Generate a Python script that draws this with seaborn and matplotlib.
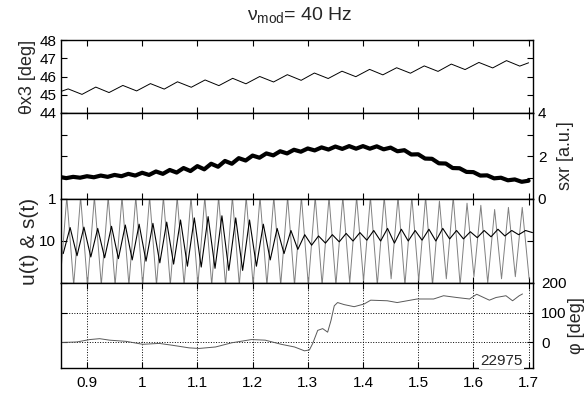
import numpy as np
import pandas as pd
import matplotlib
matplotlib.use('Agg')
import matplotlib.pyplot as plt
import seaborn as sns

sns.set_style('ticks', {'xtick.direction': 'in', 'ytick.direction': 'in'})
plt.rcParams['font.family'] = ['Liberation Sans', 'DejaVu Sans']
plt.rcParams['mathtext.fontset'] = 'custom'
plt.rcParams['mathtext.rm'] = 'Liberation Sans'
plt.rcParams['mathtext.it'] = 'Liberation Sans'

# theta_x3 (deg): peaks/troughs
theta_t = [0.850, 0.866, 0.891, 0.916, 0.940, 0.965, 0.990, 1.015, 1.040, 1.064,
           1.089, 1.114, 1.139, 1.164, 1.188, 1.213, 1.238, 1.263, 1.288, 1.312,
           1.337, 1.362, 1.387, 1.412, 1.436, 1.461, 1.486, 1.511, 1.536, 1.560,
           1.585, 1.610, 1.635, 1.660, 1.684, 1.700]
theta = [45.15, 45.32, 45.02, 45.42, 45.12, 45.51, 45.21, 45.61, 45.31, 45.71,
         45.41, 45.81, 45.50, 45.90, 45.60, 46.00, 45.70, 46.10, 45.79, 46.19,
         45.89, 46.29, 45.99, 46.39, 46.09, 46.48, 46.18, 46.58, 46.28, 46.68,
         46.38, 46.77, 46.47, 46.87, 46.57, 46.75]

# sxr (a.u.), sampled every half period of the 40 Hz modulation
sxr_t = np.linspace(0.85, 1.70, 69)
sxr = [1.03, 0.97, 1.03, 0.99, 1.06, 1.01, 1.09, 1.03, 1.12, 1.06,
       1.17, 1.09, 1.22, 1.12, 1.28, 1.17, 1.35, 1.23, 1.44, 1.30,
       1.53, 1.38, 1.64, 1.50, 1.77, 1.64, 1.90, 1.79, 2.02, 1.92,
       2.12, 2.03, 2.22, 2.12, 2.29, 2.20, 2.35, 2.26, 2.40, 2.30,
       2.44, 2.33, 2.46, 2.34, 2.46, 2.34, 2.45, 2.31, 2.39, 2.22,
       2.27, 2.07, 2.08, 1.88, 1.87, 1.66, 1.65, 1.44, 1.43, 1.26,
       1.25, 1.09, 1.10, 0.96, 0.99, 0.87, 0.91, 0.80, 0.85]

# u(t): normalised modulation, s(t): normalised response
u_t = np.linspace(0.851, 1.701, 69)
u = [-1.05, 1.05, -1.05, 1.05, -1.05, 1.05, -1.05, 1.05, -1.05, 1.05,
     -1.05, 1.05, -1.05, 1.05, -1.05, 1.05, -1.05, 1.05, -1.05, 1.05,
     -1.05, 1.05, -1.05, 1.05, -1.05, 1.05, -1.05, 1.05, -1.05, 1.05,
     -1.05, 1.05, -1.05, 1.05, -1.05, 1.05, -1.05, 1.05, -1.05, 1.05,
     -1.05, 1.05, -1.0, 1.05, -0.95, 1.05, -1.05, 1.05, -0.9, 1.05,
     -1.05, 1.05, -0.95, 1.05, -1.05, 0.95, -0.9, 1.05, -1.05, 0.9,
     -0.85, 0.85, -1.0, 0.75, -0.9, 0.8, -0.85, 0.8, -0.9]
s_t = np.linspace(0.857, 1.707, 69)
s = [-0.30, 0.32, -0.35, 0.33, -0.38, 0.30, -0.40, 0.35, -0.42, 0.38,
     -0.45, 0.40, -0.48, 0.42, -0.52, 0.45, -0.55, 0.50, -0.60, 0.55,
     -0.62, 0.58, -0.65, 0.60, -0.70, 0.55, -0.70, 0.50, -0.60, 0.40,
     -0.45, 0.30, -0.30, 0.25, -0.20, 0.15, -0.10, 0.12, -0.05, 0.15,
     -0.02, 0.18, 0.00, 0.20, 0.02, 0.25, 0.00, 0.30, -0.05, 0.28,
     0.00, 0.25, 0.02, 0.28, 0.00, 0.30, 0.05, 0.25, 0.05, 0.22,
     0.08, 0.25, 0.10, 0.28, 0.12, 0.25, 0.15, 0.25, 0.20]

# phase phi (deg)
phi_t = [0.852, 0.882, 0.905, 0.923, 0.941, 0.971, 1.001, 1.031, 1.054, 1.085,
         1.103, 1.133, 1.162, 1.198, 1.223, 1.252, 1.276, 1.294, 1.303, 1.309,
         1.318, 1.327, 1.336, 1.342, 1.348, 1.354, 1.366, 1.384, 1.402, 1.414,
         1.444, 1.462, 1.498, 1.528, 1.546, 1.570, 1.593, 1.606, 1.629, 1.641,
         1.659, 1.671, 1.683, 1.689]
phi = [-1, 1, 9, 12, 7, 3, -7, -4, -10, -19,
       -21, -16, -2, 9, 7, -7, -16, -29, -26, -4,
       40, 46, 34, 73, 123, 134, 127, 120, 129, 142,
       140, 134, 146, 146, 157, 151, 146, 162, 142, 151,
       157, 140, 157, 163]

x_ticks = [0.9, 1.0, 1.1, 1.2, 1.3, 1.4, 1.5, 1.6, 1.7]
x_labels = ['0.9', '1', '1.1', '1.2', '1.3', '1.4', '1.5', '1.6', '1.7']

fig = plt.figure(figsize=(5.86, 4.16), dpi=100)
W, H = 586, 416
left, right = 61, 533
rows = [(40, 113), (113, 199), (199, 283), (283, 368)]
axs = [fig.add_axes([left / W, 1 - b / H, (right - left) / W, (b - t) / H]) for t, b in rows]

for ax in axs:
    ax.set_xlim(0.853, 1.708)
    ax.set_xticks(x_ticks)
    ax.tick_params(axis='both', which='both', direction='in', top=True, right=True,
                   left=True, bottom=True, length=4, width=0.8, labelsize=11,
                   labelbottom=False, colors='black')
    for sp in ax.spines.values():
        sp.set_visible(True)
        sp.set_linewidth(1.0)
        sp.set_color('black')
    ax.set_xlabel('')

ax1, ax2, ax3, ax4 = axs

sns.lineplot(x=theta_t, y=theta, ax=ax1, color='black', lw=0.7)
ax1.set_ylim(44, 48)
ax1.set_yticks([44, 45, 46, 47, 48])
ax1.set_ylabel('θx3 [deg]', fontsize=13, labelpad=2)

sns.lineplot(x=sxr_t, y=sxr, ax=ax2, color='black', lw=3.0)
ax2.set_ylim(0, 4)
ax2.set_yticks([0, 1, 2, 3, 4])
ax2.set_yticklabels(['0', '', '2', '', '4'])
ax2.tick_params(labelleft=False, labelright=True)
ax2.yaxis.set_label_position('right')
ax2.set_ylabel('sxr [a.u.]', fontsize=13, labelpad=8)

sns.lineplot(x=u_t, y=u, ax=ax3, color='0.5', lw=0.7)
sns.lineplot(x=s_t, y=s, ax=ax3, color='black', lw=0.8)
ax3.set_ylim(-1, 1)
ax3.set_yticks([0, 1])
ax3.set_yticklabels(['10', '1'])
ax3.set_ylabel('u(t) & s(t)', fontsize=15, labelpad=0)

sns.lineplot(x=phi_t, y=phi, ax=ax4, color='0.35', lw=0.7)
ax4.set_ylim(-87, 200)
ax4.set_yticks([0, 100, 200])
ax4.tick_params(labelleft=False, labelright=True, labelbottom=True, pad=6)
ax4.set_xticklabels(x_labels)
ax4.grid(True, ls=':', color='black', lw=0.7)
ax4.yaxis.set_label_position('right')
ax4.set_ylabel('φ [deg]', fontsize=13, labelpad=1)
ax4.set_xlabel('Time [s]', fontsize=11, labelpad=4)
ax4.text(1.69, -62, '22975', ha='right', va='center', fontsize=11,
         bbox=dict(facecolor='white', edgecolor='none', pad=1))

fig.text(300 / W, 1 - 15 / H, r'$\nu_{\rm mod}$= 40 Hz', ha='center', va='center', fontsize=14)

fig.savefig('out.png', dpi=100, facecolor='white')
